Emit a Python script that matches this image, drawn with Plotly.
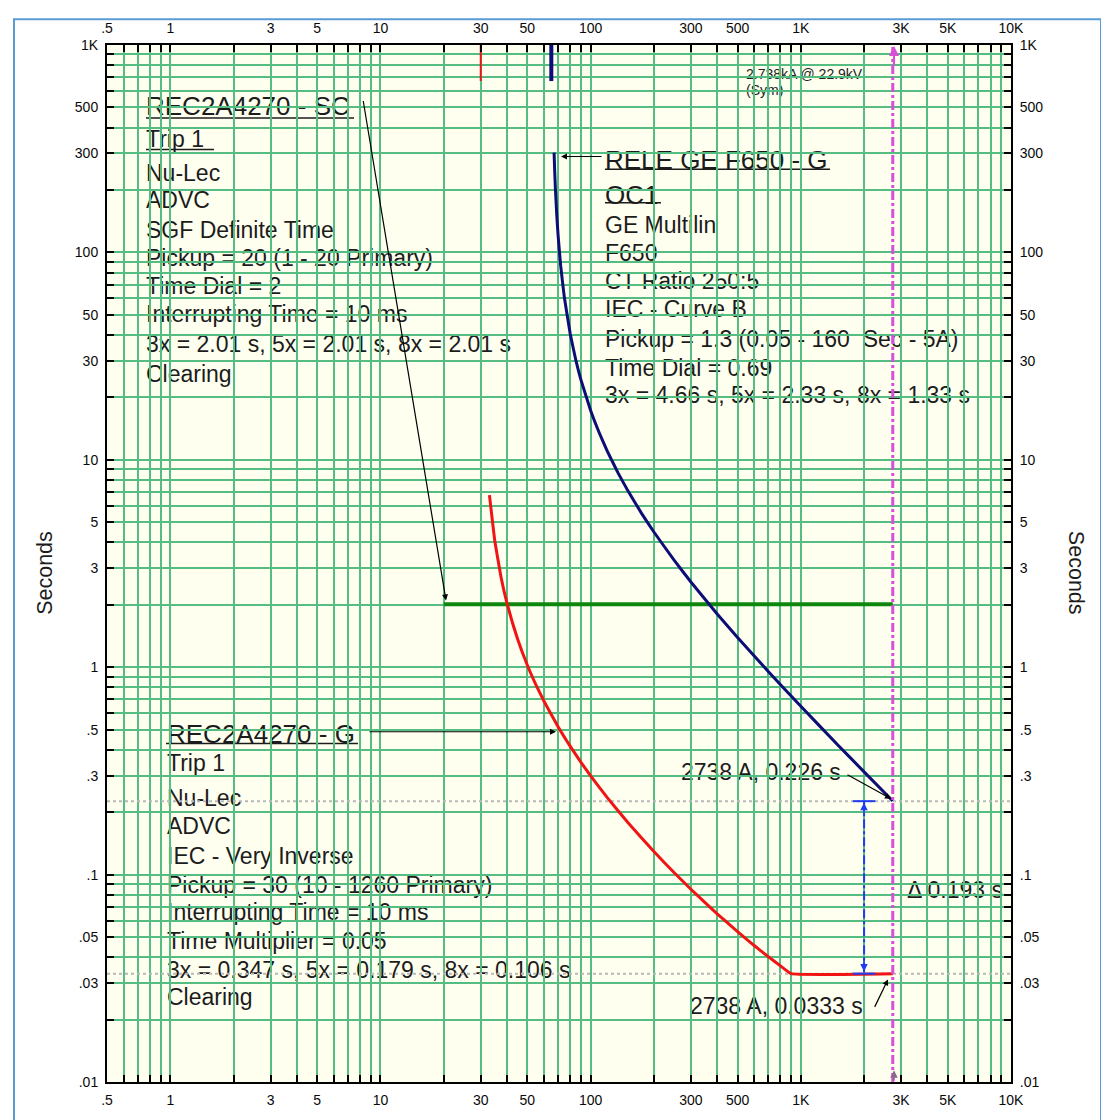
import math
import plotly.graph_objects as go

# ---------------- data ----------------
# REC2A4270 - G  (IEC very inverse, clearing) : current [A], time [s]
red_I = [33, 35, 37.5, 40, 45, 50, 55, 60, 70, 80, 90, 100, 120, 150, 200, 250,
         300, 400, 500, 600, 700, 800, 900, 2738]
red_t = [6.76, 4.06, 2.71, 2.035, 1.36, 1.0225, 0.82, 0.685, 0.516, 0.415, 0.3475,
         0.2993, 0.235, 0.1788, 0.1291, 0.102, 0.085, 0.0647, 0.0531, 0.0455,
         0.0402, 0.0363, 0.0333, 0.0333]

# RELE GE F650 - G (IEC curve B)
navy_I = [67, 67.5, 68, 69, 70, 72, 75, 80, 85, 90, 100, 110, 120, 135, 150, 175,
          200, 250, 300, 400, 500, 700, 1000, 1500, 2000, 2738]
navy_t = [302.7, 242.2, 201.8, 151.4, 121.1, 86.5, 60.55, 40.37, 30.27, 24.22,
          17.30, 13.46, 11.01, 8.65, 7.123, 5.504, 4.485, 3.273, 2.576, 1.807,
          1.392, 0.9535, 0.6476, 0.4219, 0.3129, 0.2265]

# REC2A4270 - SC (definite time)
sc_I = [20, 2738]
sc_t = [2.01, 2.01]

# pickup markers at the top of the chart
red_pickup_I = [30, 30]
navy_pickup_I = [65, 65]
pickup_t = [670, 1000]

# fault current line
fault_I = [2738, 2738]
fault_t = [0.01, 1000]

# coordination interval
relay_t = 0.226
rec_t = 0.0333
dim_I = 2000

# axis ticks
x_labels = {0.5: ".5", 1: "1", 3: "3", 5: "5", 10: "10", 30: "30", 50: "50",
            100: "100", 300: "300", 500: "500", 1000: "1K", 3000: "3K",
            5000: "5K", 10000: "10K"}
y_labels = {0.01: ".01", 0.03: ".03", 0.05: ".05", 0.1: ".1", 0.3: ".3", 0.5: ".5",
            1: "1", 3: "3", 5: "5", 10: "10", 30: "30", 50: "50", 100: "100",
            300: "300", 500: "500", 1000: "1K"}


def grid_vals(lo_exp, hi_exp):
    vals = []
    for e in range(lo_exp, hi_exp):
        for m in range(1, 10):
            vals.append(round(m * 10 ** e, 6))
    vals.append(round(10 ** hi_exp, 6))
    return vals


xt = [v for v in grid_vals(-1, 4) if v >= 0.5]
yt = grid_vals(-2, 3)


def label_for(v, d):
    for k, s in d.items():
        if abs(v - k) < 1e-9 * max(1, k):
            return s
    return ""


xtt = [label_for(v, x_labels) for v in xt]
ytt = [label_for(v, y_labels) for v in yt]

# ---------------- styling ----------------
FONT = "Liberation Sans, Arial, sans-serif"
TXT = "#1c1c1c"
GRID = "#55BD82"
OFF = 8  # page body margin
L, R, T, B = 107, 1011, 40, 1091   # plot area in page pixels
W, H = R - L, B - T
FIG_W, FIG_H = 1109 - OFF, 1120 - OFF
DX, DY = -3, -2  # text nudge


def px(xp):
    return (xp - L) / W


def py(yp):
    return (B - yp) / H


fig = go.Figure()

# grey dotted reference lines
for tv in (relay_t, rec_t):
    fig.add_trace(go.Scatter(x=[0.5, 10000], y=[tv, tv], mode="lines",
                             line=dict(color="#B8B8B8", width=2, dash="dot"),
                             hoverinfo="skip"))

fig.add_trace(go.Scatter(x=sc_I, y=sc_t, mode="lines",
                         line=dict(color="#0E870E", width=4), name="REC2A4270 - SC"))
fig.add_trace(go.Scatter(x=red_I, y=red_t, mode="lines",
                         line=dict(color="#F01414", width=3, shape="spline", smoothing=0.3),
                         name="REC2A4270 - G"))
fig.add_trace(go.Scatter(x=navy_I, y=navy_t, mode="lines",
                         line=dict(color="#0D0D78", width=3, shape="spline", smoothing=0.3),
                         name="RELE GE F650 - G"))
fig.add_trace(go.Scatter(x=red_pickup_I, y=pickup_t, mode="lines",
                         line=dict(color="#F01414", width=2), hoverinfo="skip"))
fig.add_trace(go.Scatter(x=navy_pickup_I, y=pickup_t, mode="lines",
                         line=dict(color="#0D0D78", width=4), hoverinfo="skip"))
fig.add_trace(go.Scatter(x=fault_I, y=fault_t, mode="lines",
                         line=dict(color="#DA4FDA", width=3, dash="dashdot"),
                         hoverinfo="skip"))
# coordination dimension line
fig.add_trace(go.Scatter(x=[dim_I, dim_I], y=[relay_t, rec_t], mode="lines+markers",
                         line=dict(color="#1E3CF0", width=2, dash="dashdot"),
                         marker=dict(symbol="line-ew", size=16,
                                     line=dict(color="#1E3CF0", width=2)),
                         hoverinfo="skip"))
# invisible trace to show the top / right axes
fig.add_trace(go.Scatter(x=[1], y=[1], xaxis="x2", yaxis="y2", mode="markers",
                         marker=dict(opacity=0), hoverinfo="skip"))

axis_common = dict(type="log", ticks="inside", ticklen=7, tickwidth=1.5,
                   tickcolor="black", showline=True, linecolor="black", linewidth=2,
                   zeroline=False, tickfont=dict(family=FONT, size=14, color="#0a0a0a"),
                   tickangle=0, ticklabelstandoff=4)

fig.update_layout(
    width=FIG_W, height=FIG_H,
    margin=dict(l=L - OFF, r=FIG_W - (R - OFF), t=T - OFF, b=FIG_H - (B - OFF), pad=0),
    paper_bgcolor="white", plot_bgcolor="#FFFFF0", showlegend=False,
    xaxis=dict(range=[math.log10(0.5), 4], tickvals=xt, ticktext=xtt,
               showgrid=True, gridcolor=GRID, gridwidth=2, **axis_common),
    xaxis2=dict(range=[math.log10(0.5), 4], tickvals=xt, ticktext=xtt,
                overlaying="x", side="top", anchor="y", showgrid=False, **axis_common),
    yaxis=dict(range=[-2, 3], tickvals=yt, ticktext=ytt,
               showgrid=True, gridcolor=GRID, gridwidth=2, **axis_common),
    yaxis2=dict(range=[-2, 3], tickvals=yt, ticktext=ytt,
                overlaying="y", side="right", anchor="x", showgrid=False, **axis_common),
)

ann = []
shapes = []


def txt(s, xp, yp, size=23, color=TXT):
    # text drawn beneath the grid, like the reference
    shapes.append(dict(type="rect", xref="paper", yref="paper",
                       x0=px(xp + DX), x1=px(xp + DX), y0=py(yp + DY), y1=py(yp + DY),
                       line=dict(width=0), layer="below",
                       label=dict(text=s, textposition="middle left",
                                  xanchor="left", yanchor="middle", padding=0,
                                  font=dict(family=FONT, size=size, color=color))))


def uline(x0, x1, yp):
    shapes.append(dict(type="line", xref="paper", yref="paper",
                       x0=px(x0), x1=px(x1), y0=py(yp), y1=py(yp), layer="below",
                       line=dict(color=TXT, width=1.5)))


def arrow(hx, hy, tx, ty, color="black", width=1.2, size=1):
    ann.append(dict(text="", x=px(hx), y=py(hy), xref="paper", yref="paper",
                    ax=tx - hx, ay=ty - hy, axref="pixel", ayref="pixel",
                    showarrow=True, arrowhead=2, arrowsize=size, arrowwidth=width,
                    arrowcolor=color))


# REC2A4270 - SC block
sc_lines = ["Nu-Lec", "ADVC", "SGF Definite Time", "Pickup = 20 (1 - 20 Primary)",
            "Time Dial = 2", "Interrupting Time = 10 ms",
            "3x = 2.01 s, 5x = 2.01 s, 8x = 2.01 s", "Clearing"]
sc_y = [170, 197, 227, 256, 284, 313, 343, 373]
txt("REC2A4270 - SC", 146, 102, size=26)
uline(146, 354, 114)
txt("Trip 1", 146, 135)
uline(146, 214, 146)
for s, y in zip(sc_lines, sc_y):
    txt(s, 146, y)

# RELE GE F650 - G block
nv_lines = ["GE Multilin", "F650", "CT Ratio 250:5", "IEC - Curve B",
            "Pickup = 1.3 (0.05 - 160  Sec - 5A)", "Time Dial = 0.69",
            "3x = 4.66 s, 5x = 2.33 s, 8x = 1.33 s"]
nv_y = [222, 251, 279, 308, 338, 367, 395]
txt("RELE GE F650 - G", 605, 157, size=26)
uline(605, 830, 166)
txt("OC1", 605, 192, size=26)
uline(605, 661, 200)
for s, y in zip(nv_lines, nv_y):
    txt(s, 605, y)

# REC2A4270 - G block
rd_lines = ["Trip 1", "Nu-Lec", "ADVC", "IEC - Very Inverse",
            "Pickup = 30 (10 - 1260 Primary)", "Interrupting Time = 10 ms",
            "Time Multiplier = 0.05", "3x = 0.347 s, 5x = 0.179 s, 8x = 0.106 s",
            "Clearing"]
rd_y = [768, 803, 832, 862, 891, 919, 948, 977, 1005]
txt("REC2A4270 - G", 167, 738, size=26)
uline(166, 358, 748)
for s, y in zip(rd_lines, rd_y):
    txt(s, 167, y)

# point labels
txt("2738 A, 0.226 s", 681, 777)
txt("2738 A, 0.0333 s", 690, 1014)
txt("Δ 0.193 s", 907, 896)
txt("2.738kA @ 22.9kV", 746, 70, size=14, color="#222222")
txt("(Sym)", 746, 87, size=14, color="#222222")

# arrows
arrow(446, 603, 363, 102)
arrow(561, 153, 603, 153)
arrow(556, 736, 368, 736)
arrow(891, 804, 846, 779)
arrow(888, 987, 874, 1016)
arrow(894, 41, 894, 62, color="#DA4FDA", width=2)
arrow(894, 1079, 894, 1091, color="#8a6a8a", width=1.5)
arrow(864, 808, 864, 822, color="#1E3CF0", width=1.5)
arrow(864, 979, 864, 965, color="#1E3CF0", width=1.5)

# axis titles
ann.append(dict(text="Seconds", x=px(45), y=py(575), xref="paper", yref="paper",
                xanchor="center", yanchor="middle",
                showarrow=False, textangle=-90,
                font=dict(family=FONT, size=21.5, color=TXT)))
ann.append(dict(text="Seconds", x=px(1076), y=py(575), xref="paper", yref="paper",
                xanchor="center", yanchor="middle",
                showarrow=False, textangle=90,
                font=dict(family=FONT, size=21.5, color=TXT)))

# outer blue frame
shapes.append(dict(type="rect", xref="paper", yref="paper",
                   x0=px(14), x1=px(1101), y0=py(1135), y1=py(14),
                   line=dict(color="#5B9BD5", width=2), layer="above"))

fig.update_layout(annotations=ann, shapes=shapes)
fig.write_html("out.html")
